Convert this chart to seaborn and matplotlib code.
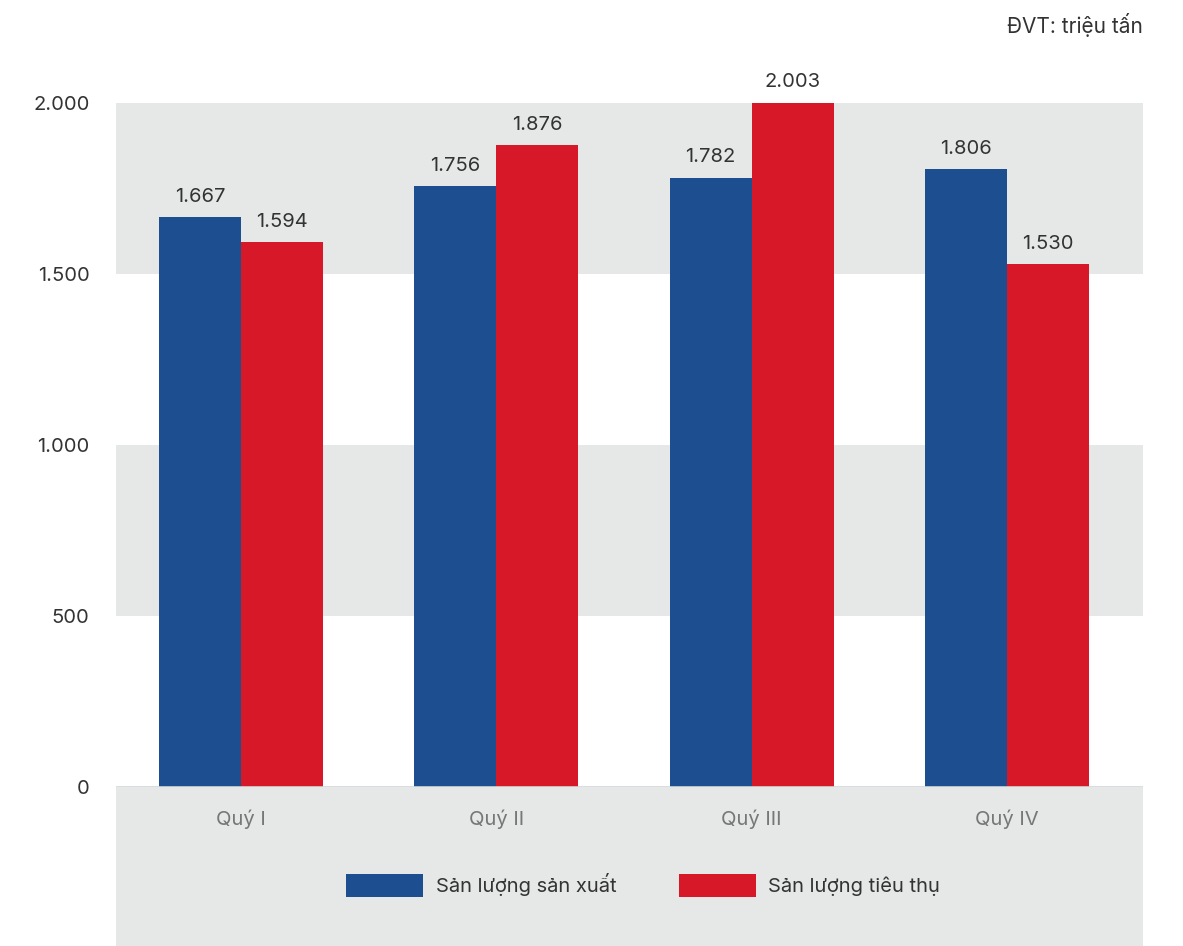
import matplotlib
matplotlib.use("Agg")
import matplotlib.pyplot as plt
import seaborn as sns
import pandas as pd
from matplotlib.patches import Rectangle

quarters = ["Quý I", "Quý II", "Quý III", "Quý IV"]
series_names = ["Sản lượng sản xuất", "Sản lượng tiêu thụ"]
san_xuat = [1667, 1756, 1782, 1806]
tieu_thu = [1594, 1876, 2003, 1530]
y_ticks = [0, 500, 1000, 1500, 2000]
unit_text = "ĐVT: triệu tấn"

colors = ["#1D4E8F", "#D71828"]
grey = "#E6E7E7"

df = pd.DataFrame({
    "quarter": quarters * 2,
    "series": [series_names[0]] * 4 + [series_names[1]] * 4,
    "value": san_xuat + tieu_thu,
})

sns.set_theme(style="white")
plt.rcParams["font.family"] = ["Inter", "DejaVu Sans"]

W, H = 1183, 946
fig = plt.figure(figsize=(W / 100, H / 100), dpi=100)
fig.patch.set_facecolor("white")
left, right, bottom, top = 116 / W, 1143 / W, (H - 787) / H, (H - 103) / H
ax = fig.add_axes([left, bottom, right - left, top - bottom])
ax.set_zorder(2)

# grey area below the axis (tick labels and legend)
fig.patches.append(Rectangle((left, 0), right - left, bottom, transform=fig.transFigure,
                             facecolor=grey, edgecolor="none", zorder=-1))

ax.axhspan(1500, 2000, color=grey, zorder=0, lw=0)
ax.axhspan(500, 1000, color=grey, zorder=0, lw=0)

sns.barplot(data=df, x="quarter", y="value", hue="series", order=quarters,
            hue_order=series_names, palette=colors, width=0.642, gap=0,
            saturation=1, ax=ax, zorder=2, linewidth=0)

ax.set_xlim(-0.49, 3.533)
ax.set_ylim(0, 2000)
ax.set_yticks(y_ticks)
ax.set_yticklabels([f"{v:,}".replace(",", ".") for v in y_ticks])
ax.set_xlabel("")
ax.set_ylabel("")
for s in ax.spines.values():
    s.set_visible(False)
ax.axhline(0, color="#D2D6DA", lw=1.2, zorder=3)
ax.tick_params(axis="y", length=0, pad=19, labelsize=14.5, labelcolor="#333333")
ax.tick_params(axis="x", length=0, pad=16, labelsize=14.5, labelcolor="#777777")

for cont in ax.containers:
    labels = [f"{v:,.0f}".replace(",", ".") for v in cont.datavalues]
    anns = ax.bar_label(cont, labels=labels, padding=8, fontsize=14.5, color="#333333")
    for a in anns:
        a.set_annotation_clip(False)
        a.set_clip_on(False)

ax.get_legend().remove()
handles = [Rectangle((0, 0), 1, 1, facecolor=c, edgecolor="none") for c in colors]
fig.legend(handles, series_names, loc="center", bbox_to_anchor=(643 / W, (H - 885) / H),
           ncol=2, frameon=False, fontsize=14.5, handlelength=3.85, handleheight=1.35,
           handletextpad=0.6, columnspacing=3.1, labelcolor="#333333")

fig.text(right, (H - 25) / H, unit_text, ha="right", va="center", fontsize=15, color="#333333")

fig.savefig("out.png", dpi=100)
